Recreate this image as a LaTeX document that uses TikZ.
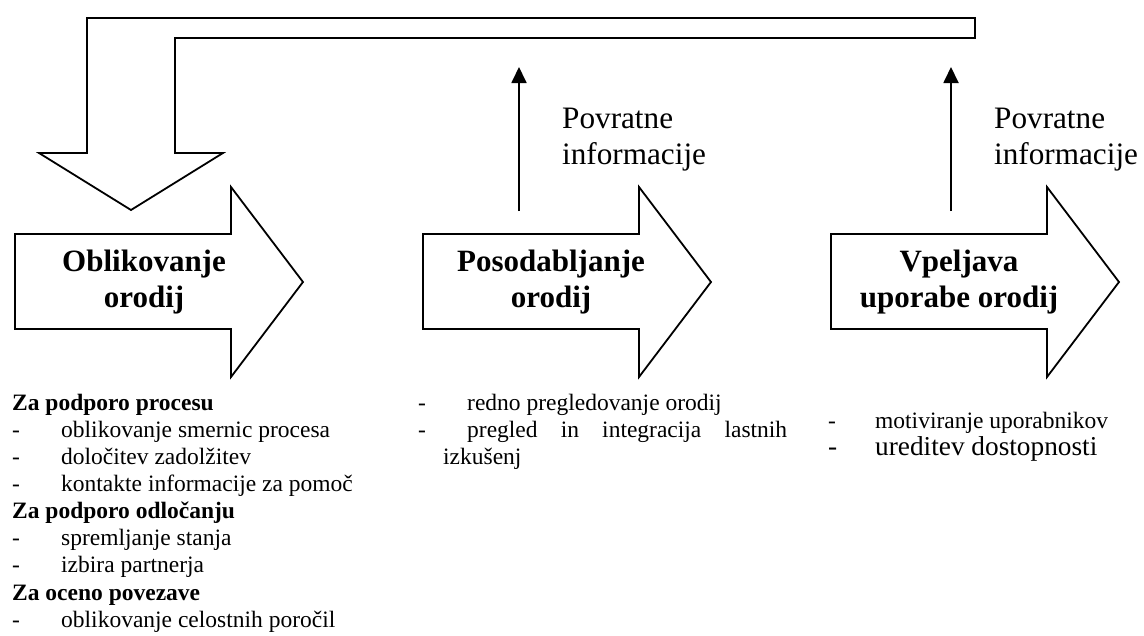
\documentclass[tikz,border=0pt]{standalone}
\usepackage{fontspec}
\setmainfont{Liberation Serif}
\usetikzlibrary{arrows.meta}

\tikzset{
  outline/.style={draw=black, line width=1.8pt, line join=miter, fill=white},
  fbarrow/.style={draw=black, line width=1.8pt, -{Triangle[length=16pt,width=15pt]}},
  title/.style={font=\fontsize{31}{36}\selectfont\bfseries, align=center, inner sep=0pt, anchor=center},
  fblabel/.style={font=\fontsize{31.2}{36}\selectfont, align=left, inner sep=0pt, anchor=north west},
  entry/.style={font=\fontsize{23.5}{27}\selectfont, inner sep=0pt, anchor=base west},
  bigentry/.style={font=\fontsize{27.3}{31}\selectfont, inner sep=0pt, anchor=base west},
  heading/.style={entry, font=\fontsize{23.5}{27}\selectfont\bfseries},
}

% block arrow: body 216 wide, 96 high; head 72 long, 190 high
\newcommand\blockarrow[1]{%
  \draw[outline] (#1,234) -- ++(216,0) -- ++(0,-47) -- ++(72,95)
    -- ++(-72,95) -- ++(0,-48) -- ++(-216,0) -- cycle;}

\begin{document}
\begin{tikzpicture}[x=1pt, y=-1pt]
\fill[white] (0,0) rectangle (1144,635);

% feedback loop returning to the first stage
\draw[outline] (975,18) -- (87,18) -- (87,153) -- (39,153) -- (131,210)
  -- (223,153) -- (175,153) -- (175,38) -- (975,38) -- cycle;

% the three stages
\blockarrow{15}
\blockarrow{423}
\blockarrow{831}

\node[title] (t1) at (144,282) {Oblikovanje\\orodij};
\node[title] (t2) at (551,282) {Posodabljanje\\orodij};
\node[title] (t3) at (959,282) {Vpeljava\\uporabe orodij};

% feedback arrows
\coordinate (f1s) at (519,211);
\coordinate (f1e) at (519,67);
\coordinate (f2s) at (951,211);
\coordinate (f2e) at (951,67);
\draw[fbarrow] (f1s) -- (f1e);
\draw[fbarrow] (f2s) -- (f2e);

\node[fblabel] (p1) at (562,107.5) {Povratne\\informacije};
\node[fblabel] (p2) at (994,107.5) {Povratne\\informacije};

% tasks of the first stage
\node[heading] (l0) at (12,410) {Za podporo procesu};
\node[entry] (l1) at (12,437) {\makebox[49pt][l]{-}oblikovanje smernic procesa};
\node[entry] (l2) at (12,464) {\makebox[49pt][l]{-}določitev zadolžitev};
\node[entry] (l3) at (12,491) {\makebox[49pt][l]{-}kontakte informacije za pomoč};
\node[heading] (l4) at (12,518) {Za podporo odločanju};
\node[entry] (l5) at (12,545) {\makebox[49pt][l]{-}spremljanje stanja};
\node[entry] (l6) at (12,572) {\makebox[49pt][l]{-}izbira partnerja};
\node[heading] (l7) at (12,600) {Za oceno povezave};
\node[entry] (l8) at (12,627) {\makebox[49pt][l]{-}oblikovanje celostnih poročil};

% tasks of the second stage
\node[entry] (m0) at (418,410) {\makebox[49pt][l]{-}redno pregledovanje orodij};
\node[entry] (m1) at (418,437) {\makebox[49pt][l]{-}\makebox[320pt][s]{pregled in integracija lastnih}};
\node[entry] (m2) at (443,464) {izkušenj};

% tasks of the third stage
\node[entry] (r0) at (828,428) {\makebox[47pt][l]{-}motiviranje uporabnikov};
\node[bigentry] (r1) at (828,455) {\makebox[47pt][l]{-}ureditev dostopnosti};
\end{tikzpicture}
\end{document}
